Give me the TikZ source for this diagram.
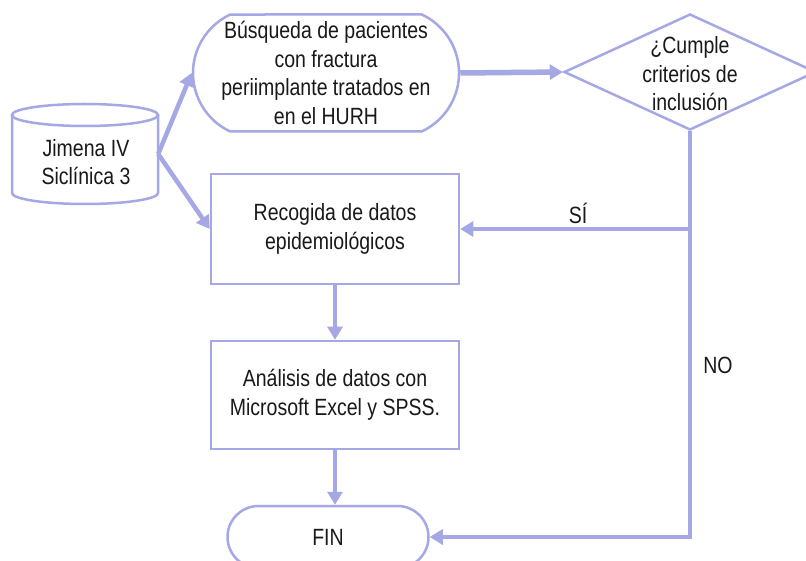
\documentclass[tikz,border=0pt]{standalone}
\usepackage{fontspec}
\setmainfont{Liberation Sans}[FakeStretch=0.83]
\usetikzlibrary{shapes.geometric,shapes.misc,arrows.meta}
\definecolor{lc}{RGB}{165,168,228}
\definecolor{tc}{RGB}{25,25,25}
\begin{document}
\begin{tikzpicture}[x=1pt,y=-1pt,
  shp/.style={draw=lc,line width=2.5pt,fill=white},
  txt/.style={align=center,font=\fontsize{23.5}{28.5}\selectfont,text=tc,inner sep=0pt},
  conn/.style={draw=lc,line width=4.5pt,-{Triangle[length=13pt,width=15pt]}},
  lab/.style={font=\fontsize{23.5}{28}\selectfont,text=tc,inner sep=0pt}]
\fill[white] (0,0) rectangle (806,561);
\useasboundingbox (0,0) rectangle (806,561);
\clip (0,0) rectangle (806,561);
% database cylinder
\draw[draw=lc,line width=2.5pt] (12,115) -- (12,193) arc[start angle=180,end angle=360,x radius=73pt,y radius=11pt] -- (158,115);
\draw[draw=lc,line width=2.5pt] (85,115) ellipse[x radius=73pt,y radius=11pt];
\node[minimum width=146pt,minimum height=100pt,inner sep=0pt] (db) at (85,154) {};
\node[txt] (dbt) at (86,162) {Jimena IV\\Siclínica 3};
% search box
\node[shp,rounded rectangle,rounded rectangle arc length=130,minimum width=266pt,minimum height=117pt,inner sep=0pt] (bus) at (326,73) {};
\node[txt] (bust) at (bus) {Búsqueda de pacientes\\con fractura\\periimplante tratados en\\en el HURH};
% decision
\node[shp,diamond,minimum width=252pt,minimum height=116pt,inner sep=0pt] (dec) at (690,72) {};
\node[txt] (dect) at (690,74) {¿Cumple\\criterios de\\inclusión};
% process boxes
\node[shp,rectangle,minimum width=248pt,minimum height=110pt,txt] (rec) at (335,229) {Recogida de datos\\epidemiológicos};
\node[shp,rectangle,minimum width=248pt,minimum height=108pt,txt] (ana) at (335,395) {Análisis de datos con\\Microsoft Excel y SPSS.};
% end
\node[shp,rounded rectangle,minimum width=201pt,minimum height=62pt,txt] (fin) at (328,537) {FIN};
% connectors
\draw[conn] (db.east) -- (bus.west);
\draw[conn] (db.east) -- (rec.west);
\draw[conn,line width=5.5pt] (bus.east) -- (dec.west);
\coordinate (yes) at (dec.south |- rec.east);
\draw[conn] (dec.south) |- (fin.east);
\draw[conn] (yes) -- (rec.east);
\draw[conn] (rec.south) -- (ana.north);
\draw[conn] (ana.south) -- (ana.south |- fin.north);
% labels
\node[lab] (si) at (578,213) {SÍ};
\node[lab] (no) at (718,365) {NO};
\end{tikzpicture}
\end{document}
